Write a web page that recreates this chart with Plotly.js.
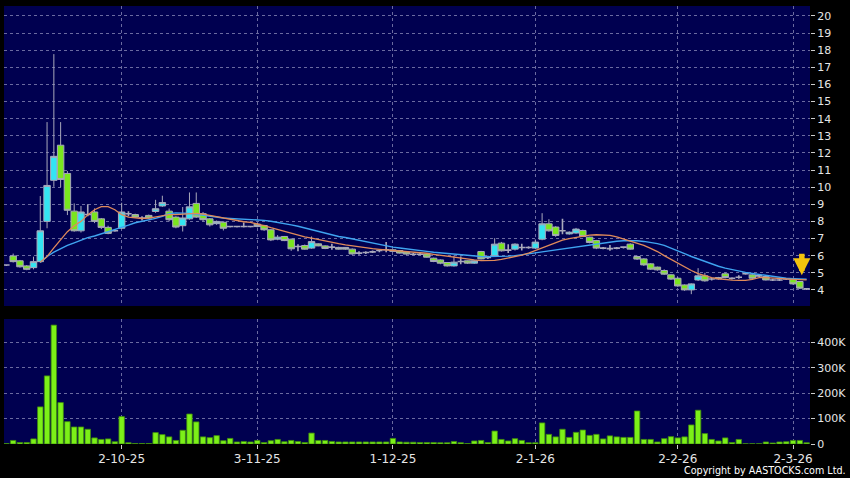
<!DOCTYPE html>
<html><head><meta charset="utf-8">
<script src="https://cdn.plot.ly/plotly-3.0.1.min.js"></script>
<style>html,body{margin:0;padding:0;background:#000;}#chart{width:850px;height:478px;}</style>
</head><body><div id="chart"></div>
<script>
const dates = [
"2025-09-08","2025-09-09","2025-09-10","2025-09-11","2025-09-12","2025-09-15","2025-09-16","2025-09-17","2025-09-18","2025-09-19",
"2025-09-22","2025-09-23","2025-09-24","2025-09-25","2025-09-26","2025-09-29","2025-09-30",
"2025-10-02","2025-10-03","2025-10-06","2025-10-08","2025-10-09","2025-10-10","2025-10-13","2025-10-14","2025-10-15","2025-10-16",
"2025-10-17","2025-10-20","2025-10-21","2025-10-22","2025-10-23","2025-10-24","2025-10-27","2025-10-28","2025-10-30","2025-10-31",
"2025-11-03","2025-11-04","2025-11-05","2025-11-06","2025-11-07","2025-11-10","2025-11-11","2025-11-12","2025-11-13","2025-11-14",
"2025-11-17","2025-11-18","2025-11-19","2025-11-20","2025-11-21","2025-11-24","2025-11-25","2025-11-26","2025-11-27","2025-11-28",
"2025-12-01","2025-12-02","2025-12-03","2025-12-04","2025-12-05","2025-12-08","2025-12-09","2025-12-10","2025-12-11","2025-12-12",
"2025-12-15","2025-12-16","2025-12-17","2025-12-18","2025-12-19","2025-12-22","2025-12-23","2025-12-24","2025-12-29","2025-12-30","2025-12-31",
"2026-01-02","2026-01-05","2026-01-06","2026-01-07","2026-01-08","2026-01-09","2026-01-12","2026-01-13","2026-01-14","2026-01-15",
"2026-01-16","2026-01-19","2026-01-20","2026-01-21","2026-01-22","2026-01-23","2026-01-26","2026-01-27","2026-01-28","2026-01-29","2026-01-30",
"2026-02-02","2026-02-03","2026-02-04","2026-02-05","2026-02-06","2026-02-09","2026-02-10","2026-02-11","2026-02-12","2026-02-13",
"2026-02-16","2026-02-20","2026-02-23","2026-02-24","2026-02-25","2026-02-26","2026-02-27",
"2026-03-02","2026-03-03","2026-03-04"];

const openP = [5.45,5.98,5.7,5.4,5.3,5.65,8.0,10.4,12.45,10.8,
8.6,7.45,8.4,8.55,8.15,7.65,7.45,7.6,8.45,8.4,
8.2,8.35,8.58,8.9,8.6,8.25,7.75,8.15,9.05,8.45,
8.15,7.87,7.95,7.7,7.7,7.7,7.7,7.84,7.76,7.51,
6.96,7.12,6.96,6.53,6.59,6.44,6.69,6.57,6.5,6.48,
6.48,6.38,6.15,6.18,6.22,6.3,6.34,6.34,6.3,6.21,
6.08,6.08,6.09,5.85,5.75,5.6,5.4,5.66,5.7,5.56,
6.24,5.9,6.0,6.73,6.32,6.38,6.48,6.48,6.44,6.96,
7.86,7.67,7.45,7.27,7.32,7.47,7.08,6.88,6.44,6.41,
6.44,6.5,6.67,5.95,5.81,5.52,5.33,5.13,4.88,4.68,
4.29,4.0,4.58,4.82,4.64,4.72,4.94,4.68,4.74,4.94,
4.88,4.82,4.78,4.58,4.58,4.64,4.63,4.49,4.06];

const highP = [5.5,6.12,5.75,5.45,5.94,9.48,13.8,17.77,13.8,10.94,
9.05,8.9,9.0,8.76,8.2,7.75,7.5,9.09,8.6,8.45,
8.3,8.4,9.26,9.5,8.75,8.3,8.84,9.69,9.69,8.55,
8.2,8.05,8.0,7.75,7.75,7.94,7.75,7.9,7.8,7.55,
7.2,7.15,7.0,6.67,6.65,7.12,6.72,6.6,6.7,6.52,
6.5,6.42,6.25,6.25,6.3,6.35,6.79,6.38,6.32,6.24,
6.15,6.15,6.12,5.88,5.78,5.62,6.0,5.95,5.72,5.75,
6.28,6.0,7.02,6.8,6.67,6.72,6.7,6.55,6.95,8.48,
8.13,7.72,8.15,7.42,7.62,7.52,7.1,6.92,6.5,6.62,
6.5,6.55,6.72,6.0,5.85,5.56,5.36,5.2,4.92,4.75,
4.32,4.38,5.27,5.0,4.7,4.76,5.0,4.74,4.85,5.0,
4.92,4.88,4.82,4.65,4.65,4.7,4.68,4.52,4.1];

const lowP = [5.4,5.6,5.3,5.15,5.2,5.6,7.6,10.02,10.0,8.37,
7.4,7.35,8.3,7.9,7.55,7.25,7.4,7.55,8.3,8.2,
8.05,8.15,8.5,8.85,8.0,7.6,7.41,8.1,8.2,8.0,
7.7,7.8,7.47,7.65,7.65,7.65,7.65,7.65,7.45,6.85,
6.9,6.85,6.28,6.25,6.35,6.4,6.55,6.38,6.35,6.35,
6.35,6.05,6.05,6.1,6.15,6.2,6.2,6.22,6.12,6.05,
6.02,6.02,5.88,5.62,5.5,5.36,5.36,5.5,5.52,5.52,
5.78,5.8,5.95,6.24,6.15,6.3,6.3,6.4,6.4,6.9,
7.4,7.1,7.25,7.22,7.28,7.08,6.72,6.38,6.38,6.28,
6.38,6.42,6.35,5.75,5.4,5.17,5.12,4.88,4.58,4.18,
3.95,3.75,4.52,4.48,4.55,4.6,4.68,4.6,4.65,4.88,
4.64,4.75,4.55,4.52,4.52,4.58,4.3,4.05,4.0];

const closeP = [5.45,5.65,5.35,5.2,5.65,7.45,10.1,11.8,10.45,8.65,
7.45,8.55,8.4,8.0,7.65,7.3,7.45,8.55,8.45,8.25,
8.2,8.2,8.74,9.1,8.1,7.67,8.2,8.85,8.25,8.1,
7.8,8.0,7.6,7.7,7.7,7.7,7.7,7.7,7.51,6.92,
7.08,6.88,6.4,6.53,6.38,6.82,6.57,6.42,6.5,6.38,
6.38,6.1,6.15,6.18,6.22,6.3,6.34,6.25,6.15,6.09,
6.08,6.08,5.91,5.66,5.56,5.4,5.62,5.66,5.56,5.7,
5.81,5.9,6.67,6.28,6.32,6.67,6.48,6.48,6.79,7.86,
7.45,7.18,7.45,7.37,7.55,7.12,6.77,6.44,6.44,6.41,
6.44,6.5,6.38,5.8,5.46,5.21,5.17,4.92,4.63,4.23,
4.0,4.35,4.82,4.53,4.64,4.64,4.72,4.68,4.74,4.94,
4.68,4.82,4.58,4.58,4.58,4.64,4.35,4.1,4.06];

const volume = [2000,14000,6000,6000,20000,146000,268000,468000,163000,88000,
67000,67000,58000,24000,18000,20000,9000,108000,5000,2000,
2000,2000,45000,37000,28000,14000,54000,118000,87000,28000,
25000,33000,13000,22000,8000,10000,8000,14000,6000,13000,
18000,9000,14000,10000,6000,43000,14000,14000,10000,8000,
8000,8000,8000,8000,8000,8000,8000,22000,8000,7000,
7000,6000,6000,6000,5000,5000,10000,5000,2000,12000,
14000,6000,51000,18000,12000,21000,14000,5000,5000,83000,
38000,28000,58000,26000,46000,55000,34000,38000,20000,32000,
28000,26000,26000,130000,18000,18000,8000,21000,29000,24000,
28000,75000,133000,41000,18000,12000,24000,6000,18000,1000,
1000,1000,8000,4000,8000,9000,14000,14000,5000];

const ma10 = [null,null,null,null,null,5.62,5.95,6.45,6.92,7.4,
7.75,8.0,8.38,8.68,8.86,8.86,8.68,8.39,8.25,8.19,
8.17,8.19,8.25,8.33,8.39,8.4,8.43,8.47,8.47,8.43,
8.35,8.29,8.19,8.1,8.02,7.98,7.94,7.86,7.75,7.63,
7.52,7.41,7.3,7.2,7.1,7.02,6.93,6.85,6.77,6.7,
6.63,6.57,6.5,6.45,6.41,6.37,6.34,6.31,6.27,6.23,
6.2,6.17,6.14,6.08,6.02,5.96,5.91,5.86,5.8,5.75,
5.71,5.7,5.72,5.78,5.85,5.93,6.03,6.15,6.3,6.45,
6.6,6.78,6.9,7.0,7.08,7.15,7.2,7.22,7.2,7.18,
7.1,6.98,6.85,6.72,6.6,6.42,6.24,6.0,5.78,5.55,
5.33,5.13,4.95,4.82,4.72,4.65,4.6,4.57,4.55,4.56,
4.62,4.72,4.72,4.68,4.66,4.64,4.62,4.6,4.58];

const ma20 = [null,null,null,null,null,5.6,5.95,6.2,6.4,6.6,
6.75,6.9,7.05,7.15,7.27,7.4,7.52,7.65,7.78,7.92,
8.0,8.08,8.18,8.3,8.45,8.5,8.5,8.47,8.42,8.36,
8.3,8.25,8.2,8.17,8.15,8.13,8.12,8.1,8.06,8.01,
7.95,7.88,7.8,7.72,7.62,7.53,7.43,7.3,7.2,7.12,
7.06,6.98,6.9,6.8,6.72,6.64,6.56,6.5,6.45,6.39,
6.34,6.29,6.25,6.2,6.16,6.12,6.08,6.04,6.0,5.97,
5.95,5.94,5.94,5.95,5.97,6.0,6.04,6.1,6.16,6.22,
6.28,6.34,6.4,6.46,6.52,6.58,6.63,6.69,6.75,6.8,
6.84,6.87,6.88,6.87,6.83,6.77,6.7,6.6,6.45,6.3,
6.12,5.95,5.8,5.65,5.5,5.38,5.27,5.18,5.1,5.02,
4.96,4.9,4.83,4.77,4.72,4.68,4.66,4.64,4.62];

const xTickDates = ["2025-10-02","2025-11-03","2025-12-01","2026-01-02","2026-02-02","2026-03-02"];
const xTickText = ["2-10-25","3-11-25","1-12-25","2-1-26","2-2-26","2-3-26"];
const priceTicks = [4,5,6,7,8,9,10,11,12,13,14,15,16,17,18,19,20];
const volTicks = [0,100000,200000,300000,400000];
const volTickText = ["0","100K","200K","300K","400K"];

function pick(cond){
  const d = {x:[],open:[],high:[],low:[],close:[]};
  for(let i=0;i<dates.length;i++){
    if(cond(openP[i],closeP[i])){
      d.x.push(dates[i]); d.open.push(openP[i]); d.high.push(highP[i]);
      d.low.push(lowP[i]); d.close.push(closeP[i]);
    }
  }
  return d;
}
const WICK = '#a9a9bb';
function candle(d, fill, lw){
  return {type:'candlestick', x:d.x, open:d.open, high:d.high, low:d.low, close:d.close,
    xaxis:'x', yaxis:'y', whiskerwidth:0, hoverinfo:'skip', showlegend:false,
    increasing:{line:{color:WICK,width:lw}, fillcolor:fill},
    decreasing:{line:{color:WICK,width:lw}, fillcolor:fill}};
}
const up = pick((o,c)=>c>o), down = pick((o,c)=>c<o), flat = pick((o,c)=>c===o);

const traces = [
  {type:'bar', x:dates, y:volume, xaxis:'x', yaxis:'y2', hoverinfo:'skip', showlegend:false,
   marker:{color:'#7cf018', line:{color:'#3f8c0c', width:0.8}}},
  {type:'scatter', mode:'lines', x:dates, y:ma20, xaxis:'x', yaxis:'y', hoverinfo:'skip', showlegend:false,
   line:{color:'#3fa4f0', width:1.4}},
  {type:'scatter', mode:'lines', x:dates, y:ma10, xaxis:'x', yaxis:'y', hoverinfo:'skip', showlegend:false,
   line:{color:'#e08a5a', width:1.3}},
  candle(up, '#33e4f2', 1),
  candle(down, '#7ae61e', 1),
  candle(flat, '#a9a9bb', 1.6)
];

const GRID = '#6a6aa0';
const FONT = {family:'DejaVu Sans, sans-serif', size:11, color:'#e6e6e6'};
const layout = {
  width:850, height:478,
  margin:{l:4, r:40, t:6, b:34, pad:0},
  paper_bgcolor:'#000000', plot_bgcolor:'#000050',
  showlegend:false, hovermode:false, bargap:0.2, boxgap:0.05, boxgroupgap:0, boxmode:'overlay',
  font:FONT,
  xaxis:{type:'category', categoryorder:'array', categoryarray:dates,
    range:[-0.35,118.5], anchor:'y2', rangeslider:{visible:false},
    tickmode:'array', tickvals:xTickDates, ticktext:xTickText,
    ticks:'outside', ticklen:4, tickcolor:'#cccccc', tickfont:{family:'DejaVu Sans, sans-serif', size:12, color:'#e6e6e6'},
    showgrid:true, gridcolor:GRID, griddash:'3px,3px', gridwidth:1,
    zeroline:false, showline:false, automargin:false, fixedrange:true},
  yaxis:{domain:[0.3151,1], range:[3.06,20.58], side:'right', anchor:'x',
    tickmode:'array', tickvals:priceTicks, ticktext:priceTicks.map(String),
    ticks:'outside', ticklen:4, tickcolor:'#cccccc', tickfont:FONT,
    showgrid:true, gridcolor:GRID, griddash:'3px,3px', gridwidth:1,
    zeroline:false, showline:false, automargin:false, fixedrange:true},
  yaxis2:{domain:[0,0.2854], range:[0,492000], side:'right', anchor:'x',
    tickmode:'array', tickvals:volTicks, ticktext:volTickText,
    ticks:'outside', ticklen:4, tickcolor:'#cccccc', tickfont:FONT,
    showgrid:true, gridcolor:GRID, griddash:'3px,3px', gridwidth:1,
    zeroline:false, showline:false, automargin:false, fixedrange:true},
  annotations:[
    {x:dates[117], y:4.85, xref:'x', yref:'y', showarrow:true, text:'',
     ax:0, ay:-23, axref:'pixel', ayref:'pixel', xshift:2,
     arrowhead:2, arrowsize:0.62, arrowwidth:5.5, arrowcolor:'#f4c20d'},
    {x:1.0475, y:-0.0594, xref:'paper', yref:'paper', xanchor:'right', yanchor:'middle',
     showarrow:false, text:'Copyright by AASTOCKS.com Ltd.',
     font:{family:'DejaVu Sans, sans-serif', size:9.6, color:'#ffffff'}}
  ]
};
Plotly.newPlot('chart', traces, layout, {staticPlot:true, displayModeBar:false});
</script></body></html>
